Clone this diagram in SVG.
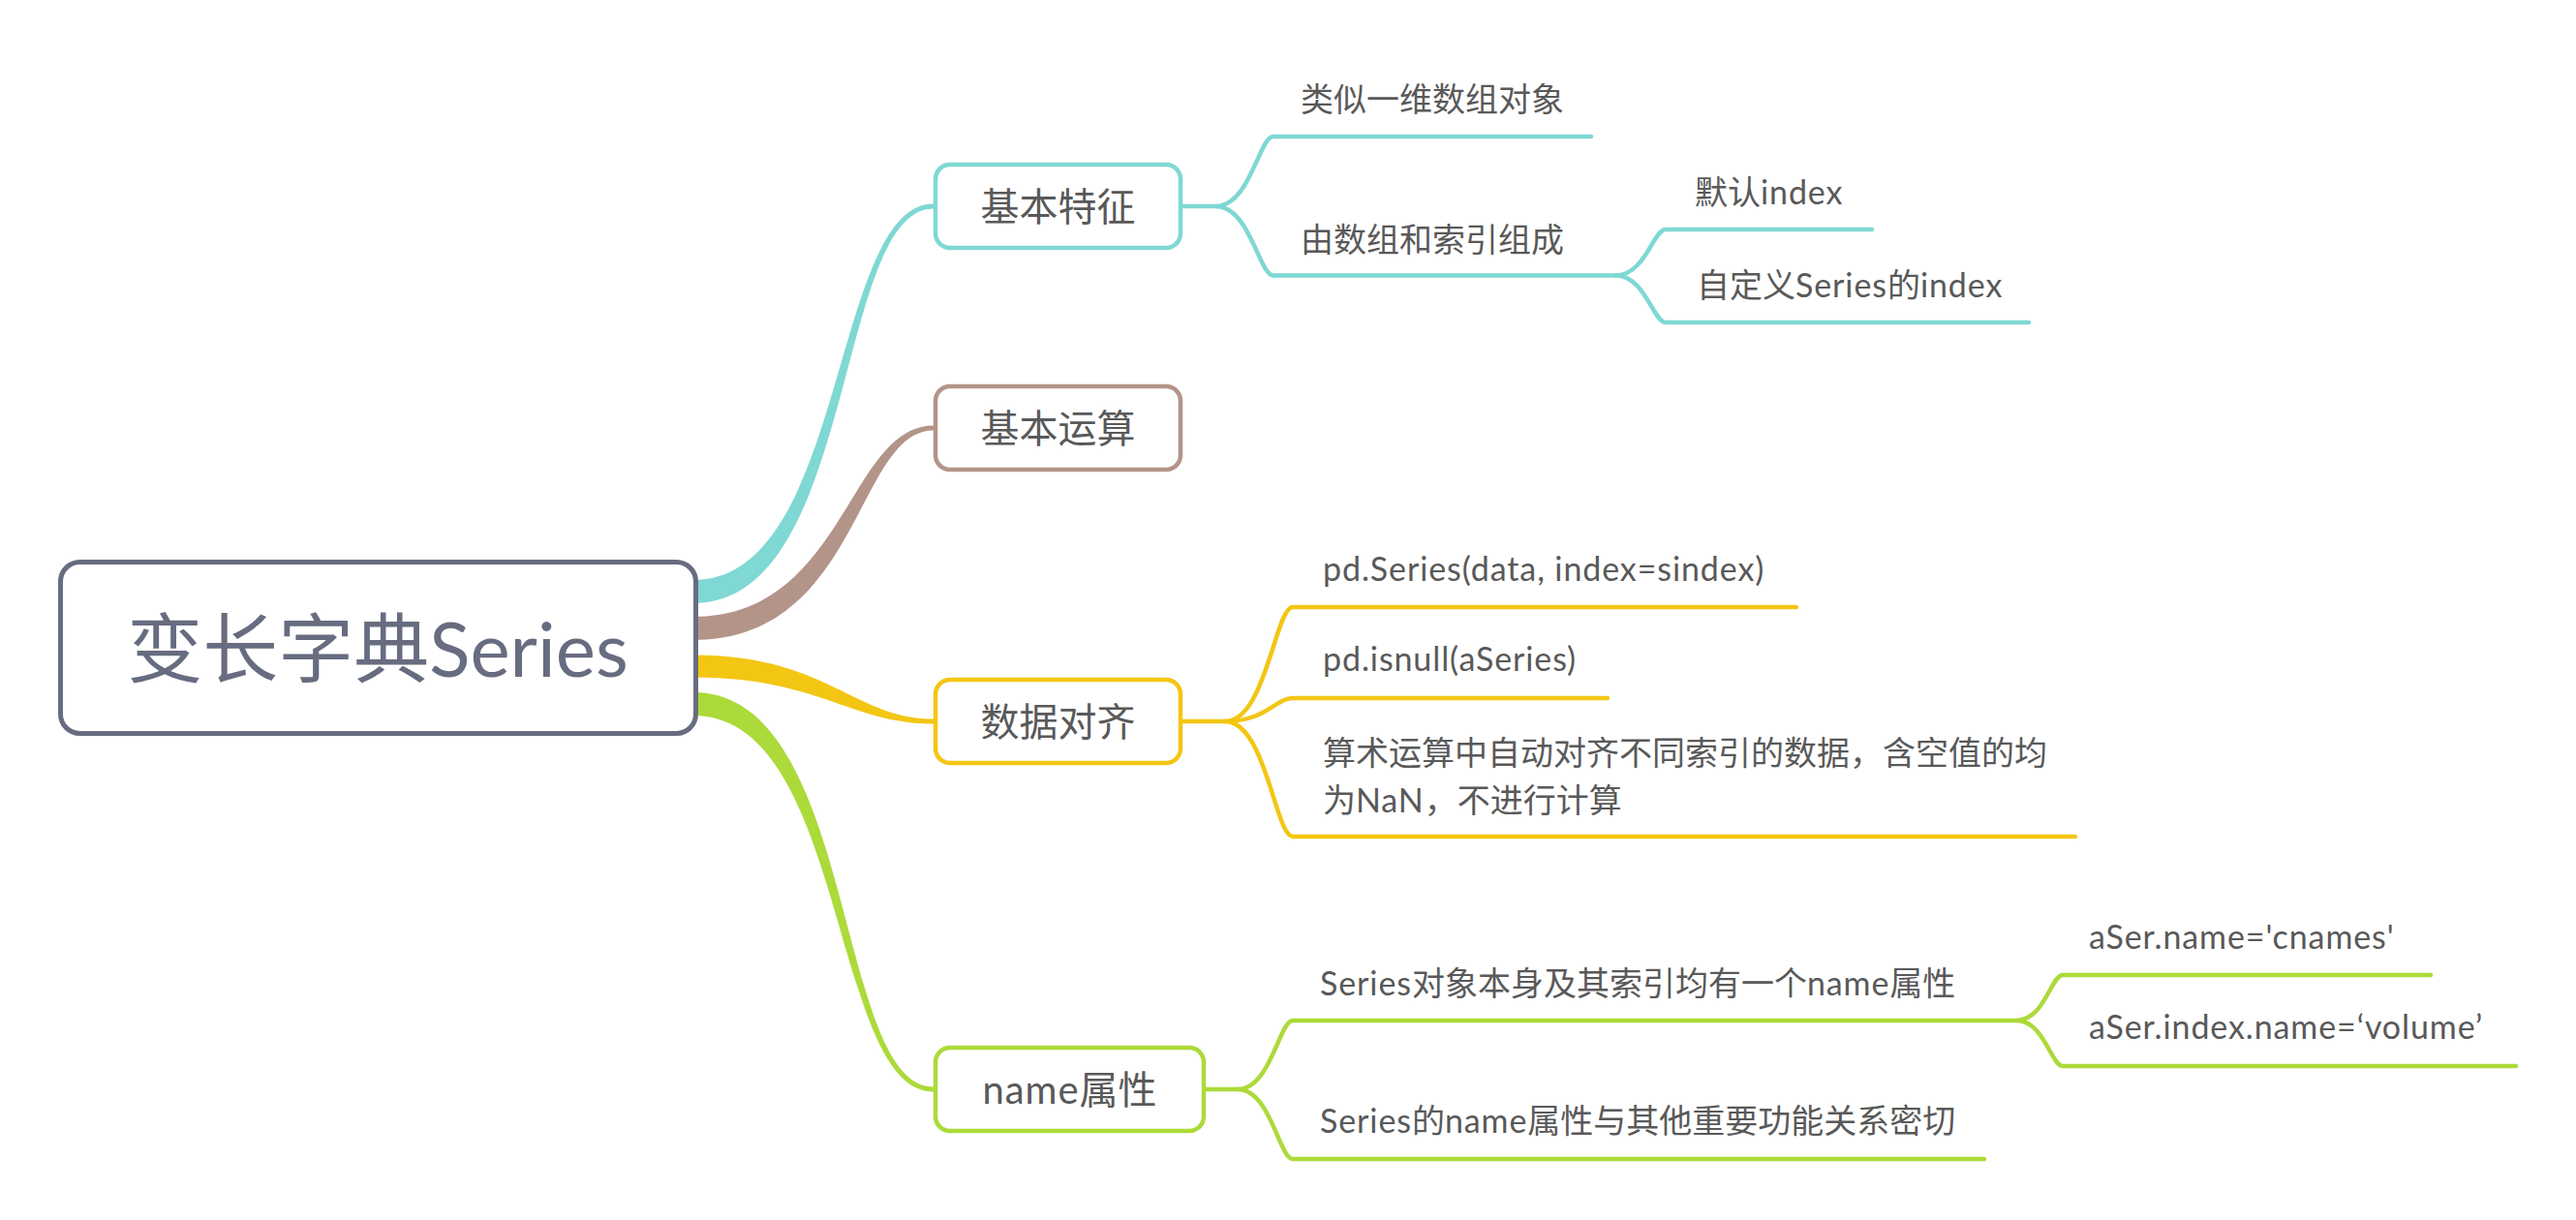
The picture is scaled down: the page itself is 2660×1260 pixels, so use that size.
<svg xmlns="http://www.w3.org/2000/svg" width="2660" height="1260" viewBox="0 0 2660 1260">
<style>
.bg{fill:#ffffff}
.t{font-family:Lato,"Noto Sans CJK SC",sans-serif;fill:#595959;font-size:34px}
.l{letter-spacing:0.9px}
.n1 rect{fill:#ffffff;stroke-width:4.5}
.n1 text{font-family:Lato,"Noto Sans CJK SC",sans-serif;fill:#595959;font-size:40px;text-anchor:middle}
.root rect{fill:#ffffff;stroke:#676c80;stroke-width:5}
.root text{font-family:Lato,"Noto Sans CJK SC",sans-serif;fill:#676c80;font-size:78px;text-anchor:middle}
.ln{fill:none;stroke-width:4.5;stroke-linecap:round;stroke-linejoin:round}
.cy{stroke:#7fd8d3}
.br{stroke:#b39488}
.ye{stroke:#f3c614}
.gr{stroke:#acda3a}
.fcy{fill:#7fd8d3}
.fbr{fill:#b39488}
.fye{fill:#f3c614}
.fgr{fill:#acda3a}
</style>
<rect class="bg" x="0" y="0" width="2660" height="1260"/>
<g id="connectors">
  <path class="fcy" d="M 716 599 C 875 599, 858 210.5, 964 210.5 L 964 215.5 C 862 215.5, 885 623, 716 623 Z"/>
  <path class="fbr" d="M 716 637 C 872 637, 876 439.5, 964 439.5 L 964 444.5 C 884 444.5, 888 661, 716 661 Z"/>
  <path class="fye" d="M 716 676.5 C 854 676.5, 882 742.5, 964 742.5 L 964 747.5 C 878 747.5, 846 699.5, 716 699.5 Z"/>
  <path class="fgr" d="M 716 715 C 885 715, 862 1122.5, 964 1122.5 L 964 1127.5 C 858 1127.5, 875 739, 716 739 Z"/>
  <path class="ln cy" d="M 1221 213 H 1255 C 1291 213, 1300 141, 1315 141 H 1643"/>
  <path class="ln cy" d="M 1255 213 C 1291 213, 1300 284.5, 1315 284.5 H 1668 C 1699 284.5, 1707 237, 1720 237 H 1933"/>
  <path class="ln cy" d="M 1668 284.5 C 1699 284.5, 1707 333, 1720 333 H 2095"/>
  <path class="ln ye" d="M 1221 745 H 1265 C 1307 745, 1317 627, 1335 627 H 1855"/>
  <path class="ln ye" d="M 1265 745 C 1307 745, 1317 721, 1335 721 H 1660"/>
  <path class="ln ye" d="M 1265 745 C 1307 745, 1317 864, 1335 864 H 2143"/>
  <path class="ln gr" d="M 1245 1125 H 1278 C 1312 1125, 1321 1054, 1335 1054 H 2082 C 2111 1054, 2118 1007, 2130 1007 H 2510"/>
  <path class="ln gr" d="M 1278 1125 C 1312 1125, 1321 1197, 1335 1197 H 2049"/>
  <path class="ln gr" d="M 2082 1054 C 2111 1054, 2118 1101, 2130 1101 H 2598"/>
</g>
<g id="root" class="root">
  <rect x="62.5" y="580.5" width="656" height="177" rx="20"/>
  <text x="390" y="699">变长字典Series</text>
</g>
<g id="n-jbtz" class="n1">
  <rect class="cy" x="966" y="170" width="253" height="86" rx="15"/>
  <text x="1092.5" y="228">基本特征</text>
</g>
<g id="n-jbys" class="n1">
  <rect class="br" x="966" y="399" width="253" height="86" rx="15"/>
  <text x="1092.5" y="457">基本运算</text>
</g>
<g id="n-sjdq" class="n1">
  <rect class="ye" x="966" y="702" width="253" height="86" rx="15"/>
  <text x="1092.5" y="760">数据对齐</text>
</g>
<g id="n-name" class="n1">
  <rect class="gr" x="966" y="1082" width="277" height="86" rx="15"/>
  <text x="1104.5" y="1140"><tspan class="l">name</tspan>属性</text>
</g>
<g id="c-lsyw"><text class="t" x="1343" y="115">类似一维数组对象</text></g>
<g id="c-ysz"><text class="t" x="1343" y="260">由数组和索引组成</text></g>
<g id="c-mr"><text class="t" x="1750" y="211">默认<tspan class="l">index</tspan></text></g>
<g id="c-zdy"><text class="t" x="1752" y="307">自定义<tspan class="l">Series</tspan>的<tspan class="l">index</tspan></text></g>
<g id="c-pds"><text class="t l" x="1366" y="600">pd.Series(data, index=sindex)</text></g>
<g id="c-pdi"><text class="t l" x="1366" y="693">pd.isnull(aSeries)</text></g>
<g id="c-sszd"><text class="t" x="1366" y="790">算术运算中自动对齐不同索引的数据，含空值的均<tspan x="1366" y="839">为<tspan class="l">NaN</tspan>，不进行计算</tspan></text></g>
<g id="c-sdx"><text class="t" x="1363" y="1028"><tspan class="l">Series</tspan>对象本身及其索引均有一个<tspan class="l">name</tspan>属性</text></g>
<g id="c-sname"><text class="t" x="1363" y="1170"><tspan class="l">Series</tspan>的<tspan class="l">name</tspan>属性与其他重要功能关系密切</text></g>
<g id="c-asn"><text class="t l" x="2157" y="980">aSer.name='cnames'</text></g>
<g id="c-asi"><text class="t l" x="2157" y="1073">aSer.index.name=‘volume’</text></g>
</svg>
